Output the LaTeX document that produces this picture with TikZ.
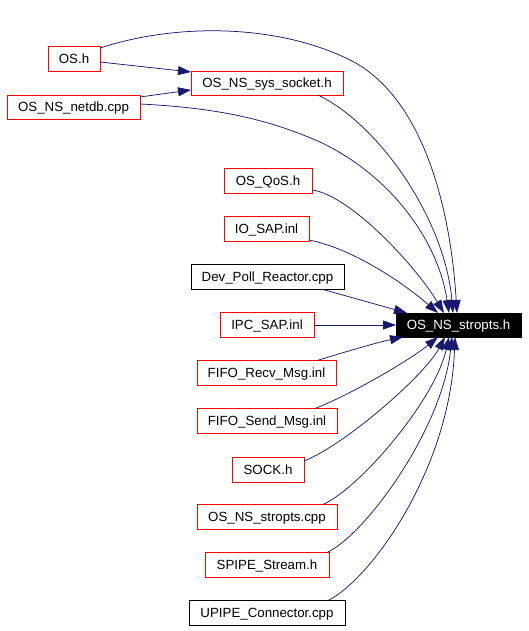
\documentclass[tikz,border=0pt]{standalone}
\usepackage{fontspec}
\setmainfont{Liberation Sans}
\usetikzlibrary{arrows.meta}
\definecolor{edgecol}{HTML}{191970}
\definecolor{redbox}{HTML}{FF0000}
\begin{document}
\begin{tikzpicture}[x=1pt,y=-1pt,
  box/.style={draw=redbox, line width=0.8pt, inner sep=0pt, outer sep=0pt,
    minimum height=25pt, font=\fontsize{13.3}{15}\selectfont,
    text height=9.5pt, text depth=0pt},
  blackbox/.style={box, draw=black},
  target/.style={box, draw=black, fill=black, text=white},
  edge/.style={draw=edgecol, line width=0.75pt, -{Triangle[length=13pt,width=9pt]}}]
\useasboundingbox (0,0) rectangle (528,631);

\node[box, minimum width=52pt] (OSh) at (74,58.5) {OS.h};
\node[box, minimum width=152pt, minimum height=24pt] (sock) at (267,83) {OS\_NS\_sys\_socket.h};
\node[box, minimum width=133pt, minimum height=24pt] (netdb) at (73.5,107) {OS\_NS\_netdb.cpp};
\node[box, minimum width=88pt] (qos) at (268,181) {OS\_QoS.h};
\node[box, minimum width=85pt] (iosap) at (266.5,229) {IO\_SAP.inl};
\node[blackbox, minimum width=153pt] (devpoll) at (267.5,277) {Dev\_Poll\_Reactor.cpp};
\node[box, minimum width=94pt] (ipcsap) at (267,325) {IPC\_SAP.inl};
\node[target, minimum width=125pt, minimum height=24pt] (stropts) at (458.5,325) {OS\_NS\_stropts.h};
\node[box, minimum width=139pt] (fiforecv) at (266.5,373) {FIFO\_Recv\_Msg.inl};
\node[box, minimum width=140pt] (fifosend) at (267,421) {FIFO\_Send\_Msg.inl};
\node[box, minimum width=72pt] (sockh) at (268,469.5) {SOCK.h};
\node[box, minimum width=140pt] (stroptscpp) at (267,517) {OS\_NS\_stropts.cpp};
\node[box, minimum width=124pt] (spipe) at (267,565) {SPIPE\_Stream.h};
\node[blackbox, minimum width=156pt] (upipe) at (267,613) {UPIPE\_Connector.cpp};

\draw[edge] ([yshift=-2pt]OSh.north east) .. controls (180,22) and (280,25) .. (350,60)
  .. controls (420,95) and (450,200) .. ([xshift=-1.5pt]stropts.north);
\draw[edge] ([yshift=-3.5pt]OSh.east) -- ([yshift=11pt]sock.west);
\draw[edge] ([yshift=10pt]netdb.east) -- ([yshift=-7pt]sock.west);
\draw[edge] ([yshift=3pt]netdb.east) .. controls (220,108) and (270,120) .. (320,142)
  .. controls (390,175) and (438,240) .. ([xshift=-9.5pt]stropts.north);
\draw[edge] ([xshift=51pt]sock.south) .. controls (380,125) and (445,220) .. ([xshift=-5.5pt]stropts.north);
\draw[edge] ([yshift=-9pt]qos.east) .. controls (350,195) and (415,265) .. ([xshift=-14.5pt]stropts.north);
\draw[edge] ([yshift=-11pt]iosap.east) .. controls (350,248) and (400,280) .. ([xshift=-20.5pt]stropts.north);
\draw[edge] ([xshift=55.5pt]devpoll.south) -- ([xshift=-51.5pt]stropts.north);
\draw[edge] (ipcsap.east) -- (stropts.west);
\draw[edge] ([xshift=50.5pt]fiforecv.north) .. controls (345,352) and (375,343) .. ([xshift=-55.5pt]stropts.south);
\draw[edge] ([xshift=48pt]fifosend.north) .. controls (350,395) and (410,360) .. ([xshift=-20.5pt]stropts.south);
\draw[edge] ([yshift=8.5pt]sockh.east) .. controls (345,445) and (425,375) .. ([xshift=-13.5pt]stropts.south);
\draw[edge] ([xshift=56pt]stroptscpp.north) .. controls (360,488) and (435,400) .. ([xshift=-9.5pt]stropts.south);
\draw[edge] ([xshift=60pt]spipe.north) .. controls (365,535) and (442,430) .. ([xshift=-6.5pt]stropts.south);
\draw[edge] ([xshift=61pt]upipe.north) .. controls (370,580) and (450,470) .. ([xshift=-3.5pt]stropts.south);
\end{tikzpicture}
\end{document}
